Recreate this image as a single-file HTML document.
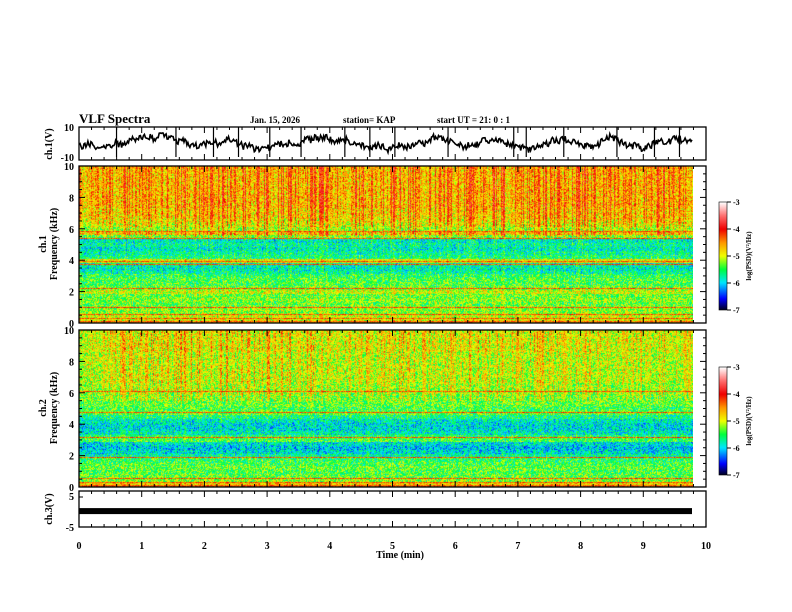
<!DOCTYPE html>
<html><head><meta charset="utf-8"><style>
html,body{margin:0;padding:0;background:#fff;}
#wrap{position:relative;width:792px;height:612px;overflow:hidden;font-family:"Liberation Serif",serif;font-weight:bold;color:#000;}
canvas{position:absolute;}
svg{position:absolute;left:0;top:0;}
</style></head><body>
<div id="wrap">
<canvas id="sp1" width="614" height="157" style="left:79px;top:166px"></canvas>
<canvas id="sp2" width="614" height="157" style="left:79px;top:330px"></canvas>
<canvas id="cb1" width="8" height="108" style="left:719px;top:202px"></canvas>
<canvas id="cb2" width="8" height="108" style="left:719px;top:367px"></canvas>
<svg id="ov" width="792" height="612"></svg>
</div>
<script>
// ---- data ----
const timeTicks=[0,1,2,3,4,5,6,7,8,9,10];
const freqTicks=[0,2,4,6,8,10];
const cbTicks=[-3,-4,-5,-6,-7];
// log PSD base profile per 0.25 kHz bin, 0..10 kHz (41 bins)
const ch1Profile=[-4.6,-4.9,-5.0,-5.2,-5.2,-5.3,-5.2,-5.3,-5.0,-5.3,-5.4,-5.4,-5.5,-5.7,-5.8,-5.8,-4.9,-5.6,-5.7,-5.8,-5.7,-5.8,-5.3,-4.8,-5.2,-5.0,-4.9,-4.8,-4.8,-4.8,-4.7,-4.7,-4.7,-4.7,-4.7,-4.7,-4.7,-4.7,-4.7,-4.7,-4.7];
const ch2Profile=[-4.3,-4.7,-5.2,-5.3,-5.4,-5.3,-5.4,-5.5,-5.7,-5.9,-6.0,-5.9,-5.4,-5.5,-5.8,-5.9,-5.9,-5.8,-5.6,-5.3,-5.4,-5.3,-5.3,-5.3,-5.2,-5.2,-5.2,-5.1,-5.1,-5.1,-5.1,-5.1,-5.1,-5.1,-5.1,-5.0,-5.0,-5.0,-5.0,-5.0,-5.0];
// narrowband line frequencies (kHz)
const ch1Lines=[0.15,0.35,0.6,1.0,2.2,3.75,3.95,5.4,5.85];
const ch2Lines=[0.15,0.3,0.55,1.9,3.2,4.75,6.1];
// impulsive activity per 0.2 min bin (0..9.8 min), 0..1
const ch1Bursts=[0.5,0.4,0.6,0.7,0.5,0.6,0.5,0.7,0.9,0.8,0.7,0.8,0.6,0.9,0.8,0.9,0.8,0.6,0.7,0.8,0.7,0.9,0.8,0.7,0.8,0.9,0.8,0.6,0.7,0.8,0.7,0.8,0.7,0.9,0.8,0.7,0.8,0.8,0.7,0.9,0.8,0.7,0.8,0.6,0.7,0.7,0.8,0.7,0.6];
const ch2Bursts=[0.3,0.4,0.5,0.6,0.5,0.6,0.5,0.6,0.7,0.7,0.6,0.7,0.5,0.6,0.6,0.7,0.6,0.5,0.6,0.5,0.4,0.5,0.5,0.4,0.5,0.6,0.5,0.5,0.4,0.5,0.4,0.6,0.5,0.6,0.5,0.5,0.6,0.5,0.4,0.5,0.5,0.4,0.5,0.4,0.5,0.4,0.5,0.4,0.4];
// ch1 waveform (V), samples over 0..9.8 min
const ch1Wave=[-1,-2,0,-1,-3,-1,-2,0,-1,1,3,2,5,3,4,2,6,4,3,1,2,0,-1,-2,-1,0,1,0,2,3,1,0,-2,-1,-3,-4,-2,-3,-1,0,-1,1,0,-1,3,2,4,3,5,2,1,3,2,0,1,-1,-2,-3,-1,-2,-4,-2,-1,-3,-2,0,1,-1,2,4,3,2,1,0,-1,-2,0,-1,1,2,1,3,1,0,-1,-3,-2,-4,-3,-2,-1,0,2,1,3,2,1,0,-1,-2,-1,0,2,4,3,1,0,-2,-1,-3,-2,-1,0,1,0,2,3,2,1,3];
const ch1Spikes=[0.6,1.55,2.15,2.55,3.05,3.55,4.25,4.65,5.05,5.9,6.95,7.15,7.75,8.6,9.2,9.6];
const ch3Level=[0.3];
// ---- axes ----
const X0=79,X1=706,DX=692;
const xs=t=>X0+(X1-X0)*t/10;
function cmap(v){
  const s=[[-7,[0,0,40]],[-6.6,[0,0,255]],[-6,[0,230,255]],[-5.5,[0,255,60]],[-5,[240,255,0]],[-4.5,[255,150,0]],[-4,[240,0,0]],[-3.5,[255,110,110]],[-3,[255,255,255]]];
  if(v<=-7)return s[0][1];if(v>=-3)return s[8][1];
  for(let i=0;i<8;i++){if(v<=s[i+1][0]){const f=(v-s[i][0])/(s[i+1][0]-s[i][0]);return s[i][1].map((c,k)=>c+(s[i+1][1][k]-c)*f);}}
}
function h(a,b){let x=(a*374761393+b*668265263)|0;x=(x^(x>>>13))*1274126177|0;return ((x^(x>>>16))>>>0)/4294967296;}
function drawSpec(id,prof,lines,bursts,seed){
  const c=document.getElementById(id),ctx=c.getContext('2d'),W=c.width,H=c.height;
  const img=ctx.createImageData(W,H);
  const fy=f=>H*(1-f/10);
  const lineRows=lines.map(f=>Math.round(fy(f)));
  for(let x=0;x<W;x++){
    const t=x/W*9.8,bi=Math.min(bursts.length-1,Math.floor(t/0.2));
    const hc=h(x,seed);const streak=bursts[bi]*(hc>0.7?1.0:hc>0.4?0.4:0.0);
    for(let y=0;y<H;y++){
      const f=(H-y)/H*10;const fi=Math.min(40,Math.round(f*4));
      let v=prof[fi]+(h(x*7+seed,y*13)-0.5)*1.0;
      v+=streak*(f>5.5?0.95:0.3)-0.1;
      if(lineRows.includes(y))v=-4.3+(h(x,y+seed)-0.5)*0.6;
      const col=cmap(v),i=(y*W+x)*4;
      img.data[i]=col[0];img.data[i+1]=col[1];img.data[i+2]=col[2];img.data[i+3]=255;
    }
  }
  ctx.putImageData(img,0,0);
}
drawSpec('sp1',ch1Profile,ch1Lines,ch1Bursts,11);
drawSpec('sp2',ch2Profile,ch2Lines,ch2Bursts,29);
['cb1','cb2'].forEach(id=>{const c=document.getElementById(id),ctx=c.getContext('2d');for(let y=0;y<c.height;y++){const v=-3-4*y/(c.height-1);const col=cmap(v);ctx.fillStyle=`rgb(${col.map(Math.round).join(',')})`;ctx.fillRect(0,y,8,1);}});

const NS='http://www.w3.org/2000/svg',ov=document.getElementById('ov');
function el(tag,at,txt){const e=document.createElementNS(NS,tag);for(const k in at)e.setAttribute(k,at[k]);if(txt!==undefined)e.textContent=txt;ov.appendChild(e);return e;}
function txt(x,y,s,size,anchor,name,rot){const e=el('text',{x:x,y:y,'font-size':size,'font-family':'Liberation Serif, serif','font-weight':'bold','text-anchor':anchor||'start'},s);if(rot)e.setAttribute('transform',`rotate(-90 ${x} ${y})`);

return e;}
const panels=[[127,160,'ch1-wave-panel'],[166,323,'ch1-spec-panel'],[330,487,'ch2-spec-panel'],[491,527,'ch3-panel']];
panels.forEach(([a,b,n])=>{
  const r=el('rect',{x:X0,y:a,width:X1-X0,height:b-a,fill:'none',stroke:'#000','stroke-width':1.3});
  
  
  for(let k=0;k<=50;k++){const x=xs(k*0.2),L=k%5==0?6:3;
    el('line',{x1:x,y1:a,x2:x,y2:a+L,stroke:'#000','stroke-width':1});
    el('line',{x1:x,y1:b,x2:x,y2:b-L,stroke:'#000','stroke-width':1});}
});
[[166,323,'ch1'],[330,487,'ch2']].forEach(([a,b,n])=>{
  const fy=f=>b-(b-a)*f/10;
  for(let k=0;k<=20;k++){const y=fy(k*0.5),L=k%4==0?6:3;
    el('line',{x1:X0,y1:y,x2:X0+L,y2:y,stroke:'#000'});el('line',{x1:X1,y1:y,x2:X1-L,y2:y,stroke:'#000'});}
  freqTicks.forEach(f=>txt(74,fy(f)+4,String(f),10,'end',n+'-freq-tick-'+f));
});
const wy=v=>127+33*(10-v)/20;
let d='';const NP=620;
for(let i=0;i<NP;i++){const p=i/(NP-1)*(ch1Wave.length-1),k=Math.floor(p),fr=p-k;
  const v=ch1Wave[k]+(ch1Wave[Math.min(k+1,ch1Wave.length-1)]-ch1Wave[k])*fr+(h(i,7)-0.5)*4;
  d+=(i?'L':'M')+(X0+(DX-X0)*i/(NP-1)).toFixed(1)+','+wy(v).toFixed(1);}
const wp=el('path',{d:d,fill:'none',stroke:'#000','stroke-width':1.6});


ch1Spikes.forEach(t=>el('line',{x1:X0+(DX-X0)*t/9.8,y1:127,x2:X0+(DX-X0)*t/9.8,y2:157,stroke:'#000','stroke-width':1.2}));
txt(74,131,'10',10,'end','ch1-wave-tick-10');txt(74,161,'-10',10,'end','ch1-wave-tick-neg10');
const cy=v=>497+30*(5-v)/10;
const bar=el('rect',{x:X0,y:cy(ch3Level[0])-3,width:DX-X0,height:6,fill:'#000'});


[5,0,-5].forEach(v=>{el('line',{x1:X0,y1:cy(v),x2:X0+4,y2:cy(v),stroke:'#000'});});
txt(74,500,'5',10,'end','ch3-tick-5');txt(74,531,'-5',10,'end','ch3-tick-neg5');
timeTicks.forEach(t=>txt(xs(t),549,String(t),10,'middle','time-tick-'+t));
txt(400,558,'Time  (min)',10,'middle','x-axis-title');
txt(79,123,'VLF Spectra',13,'start','chart-title');
txt(250,123,'Jan. 15, 2026',9,'start','date-label');
txt(343,123,'station= KAP',9,'start','station-label');
txt(437,123,'start  UT  =   21: 0   : 1',9,'start','start-time-label');
txt(52,144,'ch.1(V)',10,'middle','ch1-wave-ylabel',true);
txt(46,244,'ch.1',10,'middle','ch1-spec-ylabel',true);
txt(57,244,'Frequency  (kHz)',10,'middle','ch1-freq-ylabel',true);
txt(46,408,'ch.2',10,'middle','ch2-spec-ylabel',true);
txt(57,408,'Frequency  (kHz)',10,'middle','ch2-freq-ylabel',true);
txt(52,509,'ch.3(V)',10,'middle','ch3-ylabel',true);
[[202,'ch1'],[367,'ch2']].forEach(([top,n])=>{
  el('rect',{x:719,y:top,width:8,height:108,fill:'none',stroke:'#000','stroke-width':0.6});
  cbTicks.forEach((v,i)=>{const y=top+108*i/4;el('line',{x1:727,y1:y,x2:731,y2:y,stroke:'#000'});txt(733,y+3,String(v),8,'start',n+'-cb-tick-'+i);});
  txt(751,top+54,'log(PSD)(V²/Hz)',7,'middle',n+'-colorbar-title',true);
});
</script>
</body></html>
